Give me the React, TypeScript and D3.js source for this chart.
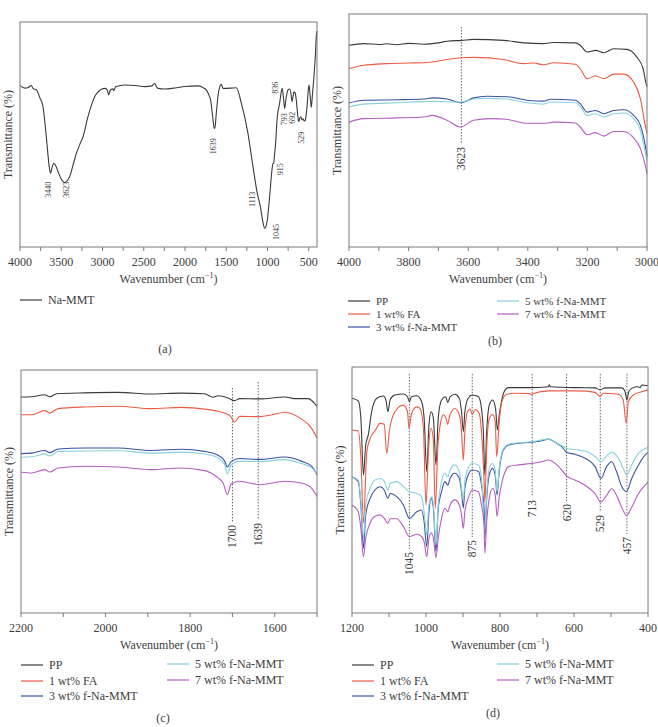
import * as d3 from "d3";

type Pt = [number, number];

const FONT = "'Liberation Serif', 'Times New Roman', serif";
const INK = "#3d3d3d";

const SERIES_NAMES = ["PP", "1 wt% FA", "3 wt% f-Na-MMT", "5 wt% f-Na-MMT", "7 wt% f-Na-MMT"];
const SERIES_COLORS = ["#3a3a3a", "#ec5b45", "#3b53a2", "#86d2de", "#b45fc0"];

// (a) Na-MMT, 4000-400 cm-1
const naMmt: Pt[] = [
  [4000, 71.7], [3940, 70.6], [3900, 70.9], [3863, 71.8], [3840, 70.3], [3802, 69.9],
  [3761, 66.5], [3721, 62.4], [3681, 49], [3645, 35.5], [3630, 32.8], [3610, 35.5],
  [3592, 37.2], [3560, 35.6], [3539, 33.5], [3500, 30.2], [3458, 28.6], [3420, 29.8],
  [3398, 31.3], [3360, 36], [3317, 41.6], [3276, 45.5], [3236, 49], [3176, 57.9],
  [3130, 63.5], [3095, 66.8], [3050, 69], [3015, 70.1], [2966, 70.5], [2940, 69.6],
  [2925, 67.6], [2905, 69.8], [2893, 70.1], [2875, 70.3], [2861, 69.5], [2845, 71],
  [2833, 71.3], [2731, 72], [2600, 71.8], [2489, 71.3], [2400, 71.6], [2368, 72.7],
  [2345, 71.2], [2327, 70.5], [2246, 70.2], [2100, 70.8], [2004, 71.3], [1843, 71.6],
  [1790, 71], [1742, 69.8], [1710, 67.5], [1689, 65.3], [1665, 58], [1645, 52.7],
  [1635, 53.5], [1621, 59.4], [1600, 67], [1588, 69.8], [1560, 72.3], [1540, 70.5],
  [1450, 70.6], [1378, 70.8], [1317, 63.9], [1237, 50.5], [1176, 35.7], [1124, 23.9],
  [1083, 17.2], [1055, 11], [1034, 8.3], [1015, 9.5], [1002, 12], [974, 22.4],
  [946, 34.2], [935, 37], [925, 37.2], [915, 41], [905, 44.6], [881, 57.9], [853, 63.9],
  [830, 69.5], [821, 70.5], [806, 66], [792, 61.6], [775, 66], [752, 69.8], [732, 70.2],
  [715, 68], [703, 64.6], [690, 67], [679, 69], [665, 68.5], [651, 65.3], [635, 59],
  [622, 55.7], [610, 57], [598, 57.9], [580, 56.5], [570, 57], [555, 56], [542, 56.4],
  [530, 59], [518, 63.9], [505, 70], [497, 72], [485, 68], [469, 62.1], [455, 68],
  [437, 75.7], [420, 85], [409, 93.5], [400, 96],
];

// (b) 4000-3000 cm-1
const ppB: Pt[] = [
  [4000, 86.6], [3951, 87.3], [3900, 86.9], [3873, 87.2], [3840, 86.8], [3800, 87.4],
  [3749, 87], [3700, 87.6], [3671, 88.3], [3621, 88.7], [3582, 89.1], [3481, 88.7],
  [3414, 87.6], [3347, 87.3], [3313, 87.8], [3240, 87.6], [3224, 86.6], [3201, 83.7],
  [3173, 84.4], [3145, 83.4], [3112, 85.1], [3067, 84.8], [3034, 81.5], [3013, 76.5],
  [3003, 70.1], [3000, 68.8],
];
const faB: Pt[] = [
  [4000, 76.5], [3951, 78], [3873, 78.7], [3800, 79], [3749, 79.1], [3700, 79.8],
  [3671, 80.5], [3621, 81.2], [3582, 81.4], [3481, 80.5], [3414, 78.7], [3380, 79],
  [3347, 78.2], [3313, 79.1], [3240, 78.4], [3224, 76.5], [3201, 72.2], [3173, 73.4],
  [3145, 72.2], [3112, 74.2], [3078, 74.2], [3045, 70.8], [3022, 63.6], [3006, 52.2],
  [3000, 48.9],
];
const mmt3B: Pt[] = [
  [4000, 61.8], [3951, 63], [3839, 63.2], [3749, 63.5], [3721, 64], [3671, 63.5],
  [3626, 61.9], [3582, 64], [3537, 64.7], [3470, 64.5], [3403, 63], [3347, 62.6],
  [3324, 63.4], [3240, 63], [3224, 61.5], [3201, 57.9], [3173, 58.6], [3145, 57.2],
  [3112, 58.6], [3078, 58.9], [3045, 56.5], [3022, 52.2], [3006, 43.6], [3000, 38.8],
];
const mmt5B: Pt[] = [
  [4000, 60.1], [3951, 61.3], [3839, 61.9], [3721, 62.5], [3626, 62.2], [3582, 63.5],
  [3537, 63.8], [3470, 63.5], [3403, 61.9], [3347, 61.3], [3324, 62.2], [3240, 61.9],
  [3224, 60.4], [3201, 56.5], [3173, 57.2], [3145, 55.8], [3112, 57.2], [3078, 57.5],
  [3045, 55.1], [3022, 50.1], [3006, 40.8], [3000, 37],
];
const mmt7B: Pt[] = [
  [4000, 53.6], [3951, 55.1], [3839, 55.4], [3749, 55.8], [3721, 56.5], [3671, 54.4],
  [3626, 51.5], [3582, 54.4], [3526, 55.1], [3470, 54.8], [3403, 53.1], [3347, 53.1],
  [3313, 53.6], [3240, 53.2], [3224, 51.5], [3201, 48.2], [3173, 49.1], [3145, 47.6],
  [3112, 49.6], [3078, 49.6], [3045, 46.8], [3022, 42.2], [3006, 35.1], [3000, 31.6],
];

// (c) 2200-1500 cm-1
const ppC: Pt[] = [
  [2200, 88.9], [2175, 89], [2144, 89.8], [2132, 89], [2116, 90.2], [2049, 90.6],
  [1970, 90.8], [1892, 90.1], [1821, 90.5], [1766, 90.2], [1746, 88.8], [1734, 89.4],
  [1710, 88.5], [1695, 87.4], [1683, 88.2], [1636, 88.1], [1576, 88.9], [1553, 88.2],
  [1521, 88.2], [1500, 85],
];
const faC: Pt[] = [
  [2200, 81.6], [2175, 81.6], [2144, 83.3], [2132, 82.3], [2112, 84.1], [2049, 84.8],
  [1970, 85.1], [1892, 84.1], [1821, 84.6], [1766, 83.9], [1734, 83], [1706, 81.3],
  [1695, 78.6], [1683, 80.9], [1636, 80.8], [1608, 81.5], [1576, 82.6], [1537, 79.8],
  [1513, 76.1], [1500, 72],
];
const mmt3C: Pt[] = [
  [2200, 65.6], [2175, 65.8], [2144, 66.9], [2132, 66], [2112, 67.5], [2049, 67.9],
  [1970, 67.9], [1892, 66.9], [1821, 67.4], [1766, 66.5], [1734, 64.9], [1718, 62.4],
  [1712, 60], [1703, 62.3], [1683, 63.6], [1636, 63.2], [1576, 64.2], [1537, 62.5],
  [1513, 60.4], [1500, 56.9],
];
const mmt5C: Pt[] = [
  [2200, 64.1], [2175, 64.3], [2144, 65.4], [2132, 64.6], [2112, 66.5], [1970, 66.8],
  [1892, 65.8], [1821, 66.2], [1766, 65.4], [1734, 63.8], [1718, 61], [1712, 57.2],
  [1703, 60.9], [1683, 62.5], [1636, 62.3], [1576, 63.1], [1537, 61.5], [1513, 59.8],
  [1500, 57.2],
];
const mmt7C: Pt[] = [
  [2200, 57.9], [2175, 57.6], [2144, 59], [2132, 58], [2112, 59.7], [2049, 60.4],
  [1970, 60.1], [1892, 59], [1821, 59.7], [1766, 58.6], [1734, 55.6], [1722, 53.5],
  [1712, 48.7], [1703, 53.1], [1683, 54.2], [1636, 52.8], [1576, 54.2], [1537, 53.5],
  [1513, 51.4], [1500, 48],
];

// (d) 1200-400 cm-1
const ppD: Pt[] = [
  [1200, 87.3], [1183, 86.2], [1176, 79.1], [1169, 56.1], [1163, 68.3], [1156, 72.4],
  [1147, 81.8], [1133, 87.3], [1115, 88.2], [1108, 86.3], [1103, 81.8], [1097, 86.7],
  [1084, 88.6], [1061, 89], [1050, 87.9], [1045, 85.9], [1039, 87.9], [1025, 88.3],
  [1012, 86], [1005, 79.1], [998, 57.5], [992, 76.4], [986, 81.8], [980, 79.1],
  [973, 60.2], [967, 79.1], [958, 86.6], [947, 87.9], [941, 85.6], [935, 87.9],
  [922, 88.9], [910, 87.3], [904, 81.8], [899, 73.7], [895, 81.8], [886, 87.3],
  [875, 88.6], [858, 87.9], [850, 83.1], [845, 73.7], [841, 56.1], [836, 73.7],
  [829, 84.5], [820, 86.6], [812, 83.1], [807, 74.4], [802, 80.5], [786, 90.7],
  [777, 91.6], [723, 91.6], [669, 92], [667, 92.8], [664, 92], [588, 91.6], [543, 91.5],
  [530, 90.7], [516, 91.5], [471, 91.5], [462, 90], [457, 86.6], [452, 90], [444, 91.3],
  [430, 92], [421, 91.7], [417, 92.7], [400, 92.4],
];
const faD: Pt[] = [
  [1200, 74.4], [1183, 74], [1176, 62.9], [1169, 36.6], [1160, 65.6], [1151, 71],
  [1138, 74], [1124, 77.1], [1113, 76.7], [1106, 64.9], [1099, 74], [1084, 81.8],
  [1061, 84.5], [1050, 81.8], [1046, 75.1], [1039, 81.1], [1025, 83.8], [1016, 83.1],
  [1007, 75.1], [1000, 43.9], [993, 67.2], [986, 75.1], [980, 69.7], [975, 42.5],
  [968, 67.2], [960, 77.9], [953, 80.6], [946, 79.1], [942, 76.7], [935, 80.6],
  [922, 83.1], [910, 80.6], [904, 73.7], [899, 62.2], [895, 73.7], [888, 81.8],
  [881, 82.9], [875, 80.7], [867, 82.7], [856, 81], [850, 73.7], [843, 53.4], [841, 45],
  [836, 67.2], [829, 79.1], [820, 80.7], [813, 77.9], [809, 63.6], [802, 77.9],
  [795, 85.9], [782, 88.9], [759, 89.3], [719, 89.2], [714, 88.6], [710, 89.2],
  [669, 90.3], [588, 90.3], [543, 89.7], [530, 88], [521, 89.3], [480, 88.9],
  [467, 86.6], [459, 77.1], [453, 85.9], [440, 88.6], [417, 89.9], [400, 90.7],
];
const mmt3D: Pt[] = [
  [1200, 55.4], [1183, 53.4], [1176, 43.9], [1169, 26.3], [1163, 39.8], [1151, 46.6],
  [1138, 50], [1124, 51.3], [1113, 50], [1103, 46.6], [1097, 48.6], [1079, 47.3],
  [1061, 43.9], [1045, 38.5], [1025, 41.2], [1012, 41.9], [1005, 37.1], [998, 27],
  [992, 41.2], [986, 46.6], [980, 42.6], [973, 25], [967, 42.6], [958, 49.3],
  [949, 53.4], [941, 52], [935, 54.7], [922, 56.8], [910, 54.7], [904, 49.3],
  [899, 42.6], [895, 50.7], [886, 56.1], [875, 58.1], [858, 57.5], [850, 52],
  [843, 42.6], [841, 30.4], [836, 46.6], [829, 56.1], [820, 58.8], [813, 56.1],
  [808, 48], [802, 58], [791, 66.3], [777, 68.3], [750, 69], [714, 69.4], [687, 70],
  [669, 70.7], [651, 69.4], [633, 67.6], [620, 65.3], [597, 64.5], [570, 62.9],
  [543, 59.5], [527, 54.7], [512, 59.5], [498, 61.5], [485, 57.5], [471, 51.4],
  [458, 49.3], [444, 54.7], [426, 60.1], [408, 64.2], [400, 65.3],
];
const mmt5D: Pt[] = [
  [1200, 55.4], [1183, 54], [1176, 45.3], [1169, 30.4], [1163, 43.9], [1151, 50.7],
  [1138, 54], [1124, 54.7], [1113, 53.6], [1103, 50], [1097, 52.7], [1079, 53.4],
  [1061, 51.4], [1045, 49.3], [1025, 48.6], [1012, 47.3], [1005, 41.2], [998, 31.7],
  [992, 43.9], [984, 47.3], [980, 43.9], [973, 27.7], [967, 43.9], [958, 53.4],
  [949, 56.8], [941, 55.4], [935, 58.1], [922, 60.2], [910, 57.5], [899, 46],
  [895, 53.4], [886, 58.8], [875, 60.8], [858, 60.2], [850, 54.7], [841, 33.1],
  [836, 48], [829, 58.8], [820, 60.8], [813, 58.1], [808, 49.3], [802, 59],
  [791, 66.7], [777, 68.6], [750, 69.2], [714, 69.6], [669, 70.7], [651, 69.4],
  [633, 68], [620, 66.9], [588, 66.3], [561, 65.3], [543, 63.6], [527, 61.5],
  [512, 63.9], [498, 65.3], [480, 62.9], [467, 58.8], [458, 56.1], [444, 60.2],
  [426, 64.9], [408, 66.9], [400, 67.2],
];
const mmt7D: Pt[] = [
  [1200, 43.9], [1183, 41.2], [1176, 34.4], [1169, 22.9], [1163, 30.4], [1151, 36.5],
  [1138, 39.3], [1124, 39.9], [1113, 38.5], [1103, 36.5], [1097, 38.3], [1079, 38.3],
  [1061, 35.1], [1045, 31.1], [1025, 32], [1012, 31.1], [1005, 29], [998, 22.9],
  [992, 30.4], [986, 32.5], [980, 30.4], [973, 22.5], [967, 30.4], [958, 38.5],
  [949, 42.6], [941, 41.2], [935, 43.9], [922, 46], [910, 43.9], [904, 39.9],
  [899, 34.4], [895, 41.2], [886, 46.6], [875, 50], [858, 49.3], [850, 43.9],
  [843, 35.8], [841, 24.3], [836, 37.1], [829, 46.6], [820, 50.7], [813, 48],
  [808, 39.3], [802, 47.3], [795, 53], [786, 57.5], [777, 59.5], [750, 60.2],
  [714, 60.8], [687, 61.5], [669, 62.2], [651, 60.8], [633, 58.1], [620, 55.7],
  [597, 54], [570, 51.9], [543, 48.5], [527, 45.1], [512, 47.8], [498, 50.5],
  [485, 47.8], [471, 43], [458, 39.6], [444, 43], [426, 48.5], [408, 51.9], [400, 53.2],
];

const ticksA = [4000, 3500, 3000, 2500, 2000, 1500, 1000, 500];
const ticksB = [4000, 3800, 3600, 3400, 3200, 3000];
const ticksC = [2200, 2000, 1800, 1600];
const ticksD = [1200, 1000, 800, 600, 400];

// peak labels: value shown, where it sits (cm-1), label top in % units, dotted guide top
type Mark = { text: string; at: number; labelTop: number; guideTop?: number };

const marksA: Mark[] = [
  { text: "3440", at: 3657, labelTop: 29 },
  { text: "3623", at: 3446, labelTop: 29 },
  { text: "1639", at: 1657, labelTop: 48.3 },
  { text: "1113", at: 1184, labelTop: 24.6 },
  { text: "1045", at: 897, labelTop: 10.2 },
  { text: "915", at: 849, labelTop: 37.2 },
  { text: "836", at: 906, labelTop: 73.5 },
  { text: "793", at: 797, labelTop: 59.4 },
  { text: "692", at: 695, labelTop: 60.1 },
  { text: "529", at: 586, labelTop: 51.2 },
];
const marksB: Mark[] = [{ text: "3623", at: 3623, labelTop: 42.9, guideTop: 94.4 }];
const marksC: Mark[] = [
  { text: "1700", at: 1700, labelTop: 36.2, guideTop: 92.6 },
  { text: "1639", at: 1639, labelTop: 37, guideTop: 95.1 },
];
const marksD: Mark[] = [
  { text: "1045", at: 1045, labelTop: 24.8, guideTop: 97.2 },
  { text: "875", at: 875, labelTop: 29.7, guideTop: 97.2 },
  { text: "713", at: 713, labelTop: 45.9, guideTop: 97.2 },
  { text: "620", at: 620, labelTop: 44.3, guideTop: 97.2 },
  { text: "529", at: 529, labelTop: 39.8, guideTop: 97.2 },
  { text: "457", at: 457, labelTop: 30.9, guideTop: 97.2 },
];

type LegendItem = { name: string; color: string; x: number; y: number };

function fiveLegend(left: number, right: number, rows: number[], rowsRight: number[]): LegendItem[] {
  return [
    { name: SERIES_NAMES[0], color: SERIES_COLORS[0], x: left, y: rows[0] },
    { name: SERIES_NAMES[1], color: SERIES_COLORS[1], x: left, y: rows[1] },
    { name: SERIES_NAMES[2], color: SERIES_COLORS[2], x: left, y: rows[2] },
    { name: SERIES_NAMES[3], color: SERIES_COLORS[3], x: right, y: rowsRight[0] },
    { name: SERIES_NAMES[4], color: SERIES_COLORS[4], x: right, y: rowsRight[1] },
  ];
}

type PanelProps = {
  left: number;
  top: number;
  right: number;
  bottom: number;
  domain: [number, number];
  ticks: number[];
  minorStep: number;
  series: { data: Pt[]; color: string }[];
  marks: Mark[];
  markSize: number;
  legend: LegendItem[];
  legendSize?: number;
  caption: { text: string; x: number; y: number };
};

function Panel(p: PanelProps) {
  const x = d3.scaleLinear().domain(p.domain).range([p.left, p.right]);
  const y = d3.scaleLinear().domain([0, 100]).range([p.bottom, p.top]);
  const line = d3
    .line<Pt>()
    .x((d) => x(d[0]))
    .y((d) => y(d[1]))
    .curve(d3.curveMonotoneX);
  const minor = d3.range(p.domain[0], p.domain[1] - 1e-6, -p.minorStep);
  const midY = (p.top + p.bottom) / 2;
  const midX = (p.left + p.right) / 2;
  const legendSize = p.legendSize ?? 12;

  return (
    <g fontFamily={FONT} fill={INK}>
      <defs>
        <clipPath id={`clip-${p.caption.text}`}>
          <rect x={p.left} y={p.top} width={p.right - p.left} height={p.bottom - p.top} />
        </clipPath>
      </defs>

      {p.marks
        .filter((m) => m.guideTop !== undefined)
        .map((m) => (
          <line
            key={`g-${m.text}`}
            x1={x(m.at)}
            x2={x(m.at)}
            y1={y(m.guideTop as number)}
            y2={y(m.labelTop) - 3}
            stroke="#555"
            strokeWidth={0.9}
            strokeDasharray="1.5,1.5"
          />
        ))}

      <g clipPath={`url(#clip-${p.caption.text})`}>
        {p.series.map((s, i) => (
          <path key={i} d={line(s.data) ?? ""} fill="none" stroke={s.color} strokeWidth={1.1} />
        ))}
      </g>

      {p.marks.map((m) => (
        <text
          key={`m-${m.text}-${m.at}`}
          transform={`translate(${x(m.at)},${y(m.labelTop)}) rotate(-90)`}
          textAnchor="end"
          dy="0.35em"
          fontSize={p.markSize}
        >
          {m.text}
        </text>
      ))}

      <rect
        x={p.left}
        y={p.top}
        width={p.right - p.left}
        height={p.bottom - p.top}
        fill="none"
        stroke="#7a7a7a"
        strokeWidth={1}
      />

      {minor.map((t) => (
        <line key={`t-${t}`} x1={x(t)} x2={x(t)} y1={p.bottom} y2={p.bottom + 4} stroke="#7a7a7a" />
      ))}
      {p.ticks.map((t) => (
        <text key={`l-${t}`} x={x(t)} y={p.bottom + 19} textAnchor="middle" fontSize={12}>
          {t}
        </text>
      ))}

      <text x={midX} y={p.bottom + 36} textAnchor="middle" fontSize={12}>
        Wavenumber (cm
        <tspan dy={-5} fontSize={8}>
          −1
        </tspan>
        <tspan dy={5}>)</tspan>
      </text>
      <text
        transform={`translate(${p.left - 12},${midY}) rotate(-90)`}
        textAnchor="middle"
        dy="0.35em"
        fontSize={12}
      >
        Transmittance (%)
      </text>

      {p.legend.map((l) => (
        <g key={l.name}>
          <line x1={l.x} x2={l.x + 22} y1={l.y} y2={l.y} stroke={l.color} strokeWidth={1.2} />
          <text x={l.x + 28} y={l.y} dy="0.35em" fontSize={legendSize}>
            {l.name}
          </text>
        </g>
      ))}

      <text x={p.caption.x} y={p.caption.y} textAnchor="middle" dy="0.35em" fontSize={12}>
        {p.caption.text}
      </text>
    </g>
  );
}

export default function App() {
  const colored = (sets: Pt[][]) => sets.map((data, i) => ({ data, color: SERIES_COLORS[i] }));

  return (
    <div style={{ position: "absolute", left: 0, top: 0 }}>
      <svg width={658} height={727} style={{ display: "block", background: "#fff" }}>
        <Panel
          left={20}
          top={22}
          right={317}
          bottom={247}
          domain={[4000, 400]}
          ticks={ticksA}
          minorStep={250}
          series={[{ data: naMmt, color: "#3a3a3a" }]}
          marks={marksA}
          markSize={8}
          legend={[{ name: "Na-MMT", color: "#3a3a3a", x: 20, y: 300 }]}
          caption={{ text: "(a)", x: 165, y: 349 }}
        />
        <Panel
          left={349}
          top={14}
          right={647}
          bottom={247}
          domain={[4000, 3000]}
          ticks={ticksB}
          minorStep={100}
          series={colored([ppB, faB, mmt3B, mmt5B, mmt7B])}
          marks={marksB}
          markSize={11.5}
          legend={fiveLegend(348, 497, [301, 314, 327], [301, 314])}
          legendSize={11}
          caption={{ text: "(b)", x: 495, y: 341 }}
        />
        <Panel
          left={21}
          top={370}
          right={317}
          bottom={613}
          domain={[2200, 1500]}
          ticks={ticksC}
          minorStep={100}
          series={colored([ppC, faC, mmt3C, mmt5C, mmt7C])}
          marks={marksC}
          markSize={11.5}
          legend={fiveLegend(21, 167, [665, 681, 696], [664, 680])}
          caption={{ text: "(c)", x: 163, y: 718 }}
        />
        <Panel
          left={352}
          top={367}
          right={648}
          bottom={613}
          domain={[1200, 400]}
          ticks={ticksD}
          minorStep={100}
          series={colored([ppD, faD, mmt3D, mmt5D, mmt7D])}
          marks={marksD}
          markSize={11.5}
          legend={fiveLegend(352, 497, [665, 681, 696], [664, 680])}
          caption={{ text: "(d)", x: 493, y: 713 }}
        />
      </svg>
    </div>
  );
}
